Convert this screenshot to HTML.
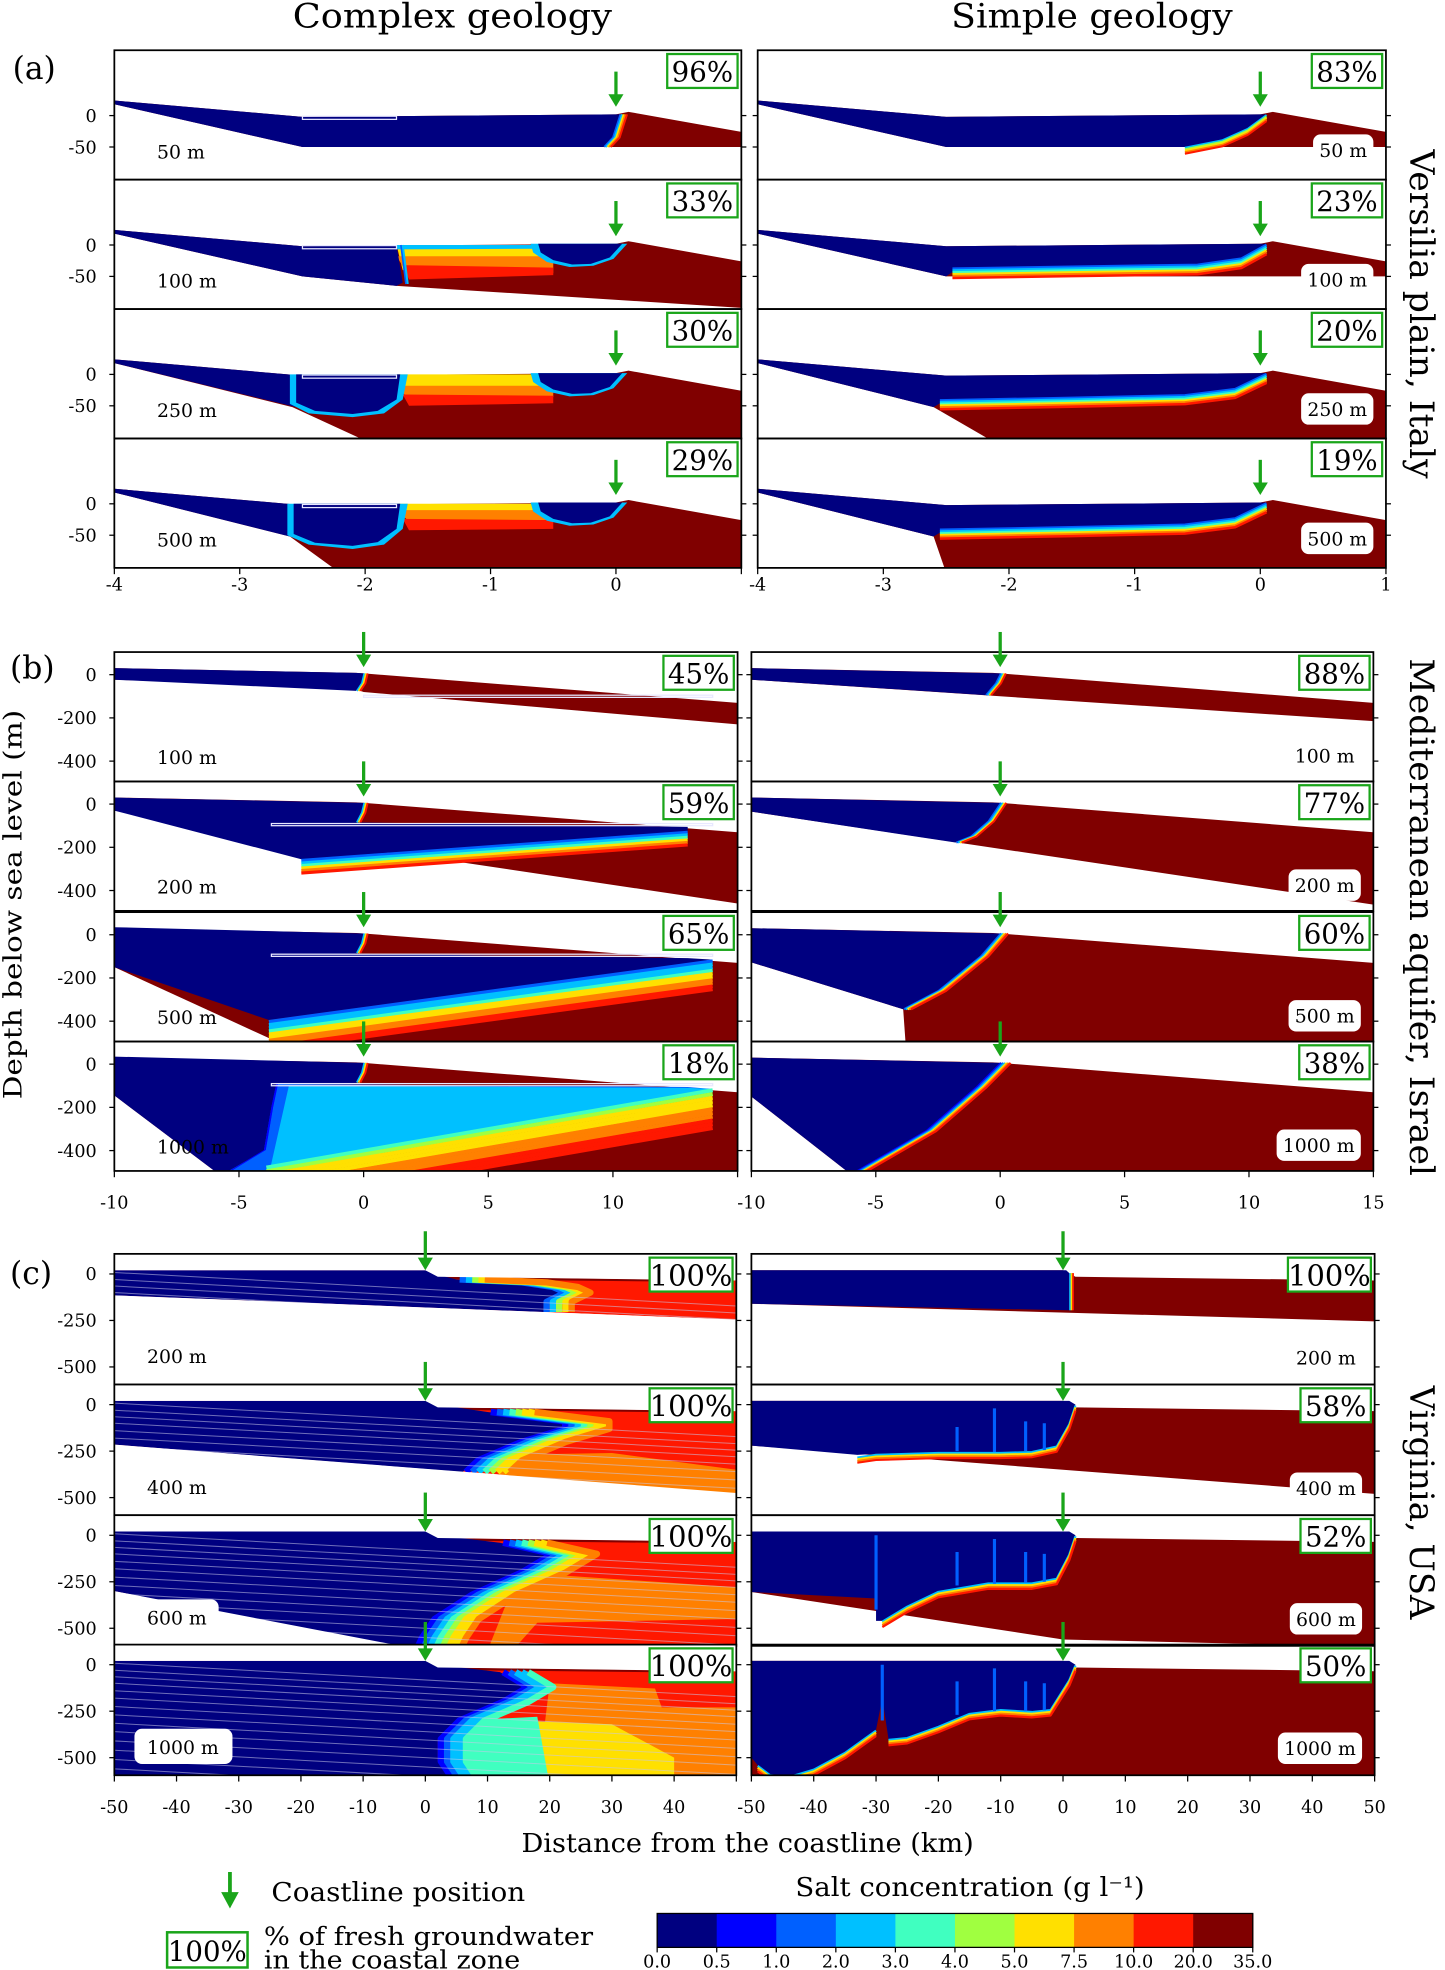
<!DOCTYPE html>
<html><head><meta charset="utf-8"><title>Coastal groundwater salinity cross-sections</title>
<style>
html,body{margin:0;padding:0;background:#fff;}
svg{display:block;}
text{font-family:"DejaVu Serif","Liberation Serif",serif;fill:#000;}
</style></head>
<body>
<svg id="fig" width="1445" height="1970" viewBox="0 0 1150 1568" preserveAspectRatio="none" xmlns="http://www.w3.org/2000/svg">
<defs id="defs"></defs>
<g id="panels"></g>
<g id="static">
  <text x="360" y="22" font-size="27" text-anchor="middle" textLength="254" lengthAdjust="spacingAndGlyphs">Complex geology</text>
  <text x="869" y="22" font-size="27" text-anchor="middle" textLength="224" lengthAdjust="spacingAndGlyphs">Simple geology</text>
  <text x="10" y="63" font-size="25">(a)</text>
  <text x="8" y="540" font-size="25">(b)</text>
  <text x="8" y="1022" font-size="25">(c)</text>
  <text transform="translate(1122,250) rotate(90)" font-size="27" text-anchor="middle" textLength="262" lengthAdjust="spacingAndGlyphs">Versilia plain, Italy</text>
  <text transform="translate(1122,730) rotate(90)" font-size="27" text-anchor="middle" textLength="412" lengthAdjust="spacingAndGlyphs">Mediterranean aquifer, Israel</text>
  <text transform="translate(1122,1196) rotate(90)" font-size="27" text-anchor="middle" textLength="186" lengthAdjust="spacingAndGlyphs">Virginia, USA</text>
  <text transform="translate(17,720) rotate(-90)" font-size="20" text-anchor="middle" textLength="310" lengthAdjust="spacingAndGlyphs">Depth below sea level (m)</text>
  <text x="595" y="1474" font-size="21" text-anchor="middle" textLength="360" lengthAdjust="spacingAndGlyphs">Distance from the coastline (km)</text>
  <g>
    <line x1="183" y1="1490" x2="183" y2="1514" stroke="#1aa51a" stroke-width="3"/>
    <polygon points="176,1506 190,1506 183,1519" fill="#1aa51a"/>
    <text x="216" y="1513" font-size="21" textLength="202" lengthAdjust="spacingAndGlyphs">Coastline position</text>
  </g>
  <g>
    <rect x="133" y="1538" width="64" height="28" fill="#fff" stroke="#1aa51a" stroke-width="2"/>
    <text x="165" y="1561" font-size="22" text-anchor="middle">100%</text>
    <text x="210" y="1548" font-size="20" textLength="262" lengthAdjust="spacingAndGlyphs">% of fresh groundwater</text>
    <text x="210" y="1567" font-size="20" textLength="204" lengthAdjust="spacingAndGlyphs">in the coastal zone</text>
  </g>
  <text x="772" y="1509" font-size="21" text-anchor="middle" textLength="278" lengthAdjust="spacingAndGlyphs">Salt concentration (g l⁻¹)</text>
  <g id="colorbar"></g>
</g>
</svg>
<script>
// ---------- data ----------
const COLORS = ['#000080','#0000ff','#0060ff','#00c0ff','#40ffc0','#a0ff40','#ffe000','#ff8000','#ff1800','#800000'];
const cbTicks = ['0.0','0.5','1.0','2.0','3.0','4.0','5.0','7.5','10.0','20.0','35.0'];
const pctA = [[96,33,30,29],[83,23,20,19]];
const pctB = [[45,59,65,18],[88,77,60,38]];
const pctC = [[100,100,100,100],[100,58,52,50]];
const depthA = ['50 m','100 m','250 m','500 m'];
const depthB = ['100 m','200 m','500 m','1000 m'];
const depthC = ['200 m','400 m','600 m','1000 m'];
const xTicksA = [-4,-3,-2,-1,0,1];
const xTicksB = [-10,-5,0,5,10,15];
const xTicksC = [-50,-40,-30,-20,-10,0,10,20,30,40,50];
const zTicksA = [0,-50];
const zTicksB = [0,-200,-400];
const zTicksC = [0,-250,-500];
const topA = [[-4,24],[-2.5,-2],[0,2],[0.1,6],[1,-26]];
const topB = [[-10,30],[-0.3,8],[0,6],[15,-130]];
const topC = [[-50,20],[0,20],[2,-15],[50,-35]];
const layerStartsC = [8,-30,-65,-100,-140,-180,-225,-270,-315,-360,-410,-460,-510,-560];

// layout (pixels, not data)
const L = {
 a:{tops:[40,143,246,349],h:103,xs:[[91,590],[603,1103]],dom:[-4,1],z0:52,zs:0.5,top:topA,xt:xTicksA,zt:zTicksA,pct:pctA,dep:depthA,tickY:465,arrow:[17,45]},
 b:{tops:[519,622,726,829],h:103,xs:[[91,587],[598,1093]],dom:[-10,15],z0:18,zs:0.172,top:topB,xt:xTicksB,zt:zTicksB,pct:pctB,dep:depthB,tickY:957,arrow:[-16,12]},
 c:{tops:[998,1102,1206,1309],h:104,xs:[[91,586],[598,1094]],dom:[-50,50],z0:16,zs:0.148,top:topC,xt:xTicksC,zt:zTicksC,pct:pctC,dep:depthC,tickY:1438,arrow:[-18,13]}
};
const WARM=[3,5,6,7,8];
const panels = [
 // ---- (a) complex ----
 {sec:'a',col:0,row:0,base:9,bottom:[[1,-50],[-2.5,-50],[-4,18]],
  patches:[[0,[[-4,24],[-2.5,-2],[0,2],[0.03,2],[-0.03,-35],[-0.1,-50],[-2.5,-50],[-4,18]]]],
  bands:[[[[0.03,2],[-0.03,-35],[-0.1,-50]],[2,3,6,7,8],1.3,0,1.6]],boxes:[[-2.5,-1,-1.75,-6]]},
 {sec:'a',col:0,row:1,base:9,bottom:[[1,-100],[-1.75,-65],[-2.5,-50],[-4,18]],
  patches:[[6,[[-1.75,0],[-0.55,0],[-0.55,-40],[-1.7,-40]]],[7,[[-1.75,-18],[-0.5,-18],[-0.5,-45],[-1.65,-50]]],[8,[[-1.7,-32],[-0.5,-36],[-0.5,-48],[-1.65,-55]]],[3,[[-1.75,0],[-0.6,0],[-0.6,-6],[-1.75,-7]]],
   [0,[[-4,24],[-2.5,-2],[-1.75,0],[-1.7,-60],[-1.75,-65],[-2.5,-50],[-4,18]]],
   [3,[[-0.68,2],[-0.66,-12],[-0.55,-27],[-0.37,-35],[-0.18,-33],[-0.02,-22],[0.09,2]]],
   [0,[[-0.62,2],[-0.6,-12],[-0.5,-24],[-0.35,-31],[-0.2,-30],[-0.05,-20],[0.05,2]]]],
  bands:[[[[-1.72,0],[-1.68,-62]],[2,3],1.3,0,1.6]],boxes:[[-2.5,-1,-1.75,-6]]},
 {sec:'a',col:0,row:2,base:9,bottom:[[1,-110],[-1.95,-110],[-2.58,-52],[-4,18]],
  patches:[[6,[[-1.75,0],[-0.55,0],[-0.55,-25],[-1.7,-25]]],[7,[[-1.75,-18],[-0.5,-18],[-0.5,-36],[-1.65,-40]]],[8,[[-1.7,-32],[-0.5,-34],[-0.5,-46],[-1.65,-50]]],
   [0,[[-4,24],[-2.5,-2],[-2.55,-52],[-4,18]]],
   [3,[[-2.6,0],[-2.6,-47],[-2.45,-62],[-2.1,-68],[-1.85,-62],[-1.7,-40],[-1.66,0]]],
   [0,[[-2.55,0],[-2.55,-45],[-2.4,-58],[-2.1,-63],[-1.9,-58],[-1.75,-40],[-1.72,0]]],
   [3,[[-0.68,2],[-0.66,-12],[-0.55,-27],[-0.37,-35],[-0.18,-33],[-0.02,-22],[0.09,2]]],
   [0,[[-0.62,2],[-0.6,-12],[-0.5,-24],[-0.35,-31],[-0.2,-30],[-0.05,-20],[0.05,2]]]],
  bands:[],boxes:[[-2.5,-1,-1.75,-6]]},
 {sec:'a',col:0,row:3,base:9,bottom:[[1,-110],[-2.2,-110],[-2.6,-52],[-4,18]],
  patches:[[6,[[-1.75,0],[-0.55,0],[-0.55,-14],[-1.7,-14]]],[7,[[-1.75,-10],[-0.5,-10],[-0.5,-26],[-1.65,-28]]],[8,[[-1.7,-24],[-0.5,-26],[-0.5,-40],[-1.65,-42]]],
   [0,[[-4,24],[-2.5,-2],[-2.6,-52],[-4,18]]],
   [3,[[-2.62,0],[-2.62,-50],[-2.45,-65],[-2.1,-72],[-1.85,-65],[-1.7,-40],[-1.66,0]]],
   [0,[[-2.57,0],[-2.57,-48],[-2.4,-62],[-2.1,-67],[-1.9,-61],[-1.75,-40],[-1.72,0]]],
   [3,[[-0.68,2],[-0.66,-12],[-0.55,-27],[-0.37,-35],[-0.18,-33],[-0.02,-22],[0.09,2]]],
   [0,[[-0.62,2],[-0.6,-12],[-0.5,-24],[-0.35,-31],[-0.2,-30],[-0.05,-20],[0.05,2]]]],
  bands:[],boxes:[[-2.5,-1,-1.75,-6]]},
 // ---- (a) simple ----
 {sec:'a',col:1,row:0,base:9,bottom:[[1,-50],[-2.5,-50],[-4,18]],
  patches:[[0,[[-4,24],[-2.5,-2],[0,2],[0.05,2],[-0.1,-20],[-0.3,-38],[-0.6,-50],[-2.5,-50],[-4,18]]]],
  bands:[[[[0.05,2],[-0.1,-20],[-0.3,-38],[-0.6,-50]],WARM,0,1.2,1.6]]},
 {sec:'a',col:1,row:1,base:9,bottom:[[1,-50],[-2.5,-50],[-4,18]],
  patches:[[0,[[-4,24],[-2.5,-2],[0,2],[0.05,2],[-0.15,-20],[-0.5,-30],[-1.5,-33],[-2.4,-36],[-2.5,-50],[-4,18]]]],
  bands:[[[[0.05,2],[-0.15,-20],[-0.5,-30],[-1.5,-33],[-2.45,-36]],[2,3,4,6,7,8],0,1.5,2]]},
 {sec:'a',col:1,row:2,base:9,bottom:[[1,-110],[-2.1,-110],[-2.6,-52],[-4,18]],
  patches:[[0,[[-4,24],[-2.5,-2],[0,2],[0.05,2],[-0.2,-22],[-0.6,-32],[-1.5,-36],[-2.5,-40],[-2.6,-52],[-4,18]]]],
  bands:[[[[0.05,2],[-0.2,-22],[-0.6,-32],[-1.5,-36],[-2.55,-40]],[2,3,4,6,7,8],0,1.4,2]]},
 {sec:'a',col:1,row:3,base:9,bottom:[[1,-110],[-2.5,-110],[-2.6,-52],[-4,18]],
  patches:[[0,[[-4,24],[-2.5,-2],[0,2],[0.05,2],[-0.2,-22],[-0.6,-32],[-1.5,-36],[-2.5,-40],[-2.6,-52],[-4,18]]]],
  bands:[[[[0.05,2],[-0.2,-22],[-0.6,-32],[-1.5,-36],[-2.55,-40]],[2,3,4,6,7,8],0,1.4,2]]},
 // ---- (b) complex ----
 {sec:'b',col:0,row:0,base:9,bottom:[[15,-230],[0,-80],[-0.5,-60],[-10,-23]],
  patches:[[0,[[-10,30],[-0.3,8],[0,6],[-0.1,-40],[-0.3,-75],[-10,-23]]]],
  bands:[[[[0,6],[-0.1,-40],[-0.3,-75]],[3,6,8],1.3,0,1.6]],boxes:[[0,-95,14,-105]]},
 {sec:'b',col:0,row:1,base:9,bottom:[[15,-460],[-10,-30]],
  patches:[[0,[[-10,30],[0,6],[-0.1,-40],[-0.3,-85],[13,-105],[13,-125],[-2.5,-255],[-10,-30]]]],
  bands:[[[[-2.5,-255],[13,-125]],[2,3,4,6,7,8],0,2,2.5],[[[0,6],[-0.1,-40],[-0.3,-85]],[3,6,8],1.3,0,1.6]],boxes:[[-3.7,-90,14,-100]]},
 {sec:'b',col:0,row:2,base:9,bottom:[[15,-510],[-3.2,-510],[-10,-150]],
  patches:[[0,[[-10,35],[0,6],[-0.1,-40],[-0.3,-88],[13,-108],[14,-115],[-3.8,-395],[-10,-150]]]],
  bands:[[[[-3.8,-395],[14,-115]],[2,3,3,4,6,6,7,7,8,8],0,2.5,2.8],[[[0,6],[-0.1,-40],[-0.3,-85]],[3,6,8],1.3,0,1.6]],boxes:[[-3.7,-90,14,-100]]},
 {sec:'b',col:0,row:3,base:9,bottom:[[15,-510],[-5.8,-510],[-10,-145]],
  patches:[[2,[[-3.5,-92],[13,-106],[14,-115],[-4.8,-510],[-5.5,-510]]],
   [3,[[-3.0,-100],[13,-110],[14,-115],[-4.5,-510],[-3.8,-510]]],
   [0,[[-10,35],[0,6],[-0.1,-40],[-0.3,-88],[-3.5,-90],[-3.7,-200],[-4,-400],[-5.5,-500],[-5.8,-510],[-10,-145]]]],
  bands:[[[[-3.9,-470],[14,-112]],[4,5,6,6,6,7,7,7,8,8,8],0,3,3.2],[[[-3.5,-90],[-3.7,-200],[-4,-400],[-5.5,-505]],[1,2],1.5,0,1.6],[[[0,6],[-0.1,-40],[-0.3,-85]],[3,6,8],1.3,0,1.6]],boxes:[[-3.7,-90,14,-100]]},
 // ---- (b) simple ----
 {sec:'b',col:1,row:0,base:9,bottom:[[15,-215],[-10,-23]],
  patches:[[0,[[-10,30],[0,6],[-0.2,-40],[-0.6,-95],[-10,-23]]]],
  bands:[[[[0,6],[-0.2,-40],[-0.6,-95]],[2,3,6,8],1.3,0,1.6]]},
 {sec:'b',col:1,row:1,base:9,bottom:[[15,-465],[-10,-35]],
  patches:[[0,[[-10,30],[0,6],[-0.5,-80],[-1.2,-150],[-1.8,-178],[-10,-35]]]],
  bands:[[[[0,6],[-0.5,-80],[-1.2,-150],[-1.8,-178]],[2,3,6,8],1.4,0,1.6]]},
 {sec:'b',col:1,row:2,base:9,bottom:[[15,-510],[-3.8,-510],[-3.9,-345],[-10,-128]],
  patches:[[0,[[-10,30],[0,6],[-0.8,-100],[-2.5,-260],[-3.9,-345],[-10,-128]]]],
  bands:[[[[0,6],[-0.8,-100],[-2.5,-260],[-3.9,-345]],[2,3,6,7,8],1.4,0,1.8]]},
 {sec:'b',col:1,row:3,base:9,bottom:[[15,-510],[-6,-510],[-10,-150]],
  patches:[[0,[[-10,30],[0,6],[-1,-110],[-3,-310],[-6,-510],[-10,-150]]]],
  bands:[[[[0,6],[-1,-110],[-3,-310],[-6,-510]],[1,2,3,6,7,8],1.5,0,1.8]]},
 // ---- (c) complex ----
 {sec:'c',col:0,row:0,base:8,bottom:[[50,-245],[-50,-115]],layers:true,
  patches:[[9,[[2,-15],[36,-28],[36,-40],[2,-28]]],[0,[[-50,20],[0,20],[1,5],[5,-30],[15,-45],[20,-70],[22,-100],[19,-150],[19,-205],[-50,-115]]]],
  bands:[[[[5,-30],[15,-45],[20,-70],[22,-100],[19,-150],[19,-205]],[2,3,5,6,7],5,0,5]]},
 {sec:'c',col:0,row:1,base:8,bottom:[[50,-475],[-50,-215]],layers:true,
  patches:[[7,[[12,-270],[30,-260],[50,-350],[50,-480],[12,-400]]],[9,[[2,-15],[36,-28],[36,-40],[2,-28]]],
   [0,[[-50,20],[0,20],[2,0],[10,-40],[22,-90],[22,-130],[15,-200],[8,-300],[6,-362],[-50,-215]]]],
  bands:[[[[10,-40],[22,-90],[22,-130],[15,-200],[8,-300],[6,-362]],[1,2,3,4,5,6,6,7],5,0,5.2]]},
 {sec:'c',col:0,row:2,base:8,bottom:[[50,-620],[0,-620],[-50,-300]],layers:true,
  patches:[[7,[[15,-200],[50,-280],[50,-620],[10,-620]]],[8,[[18,-470],[50,-450],[50,-600],[14,-620]]],[9,[[2,-15],[36,-28],[36,-40],[2,-28]]],
   [0,[[-50,20],[0,20],[2,0],[12,-40],[20,-100],[15,-200],[7,-320],[1,-450],[-1,-550],[-2,-620],[-50,-300]]]],
  bands:[[[[12,-40],[20,-100],[15,-200],[7,-320],[1,-450],[-1,-550],[-2,-620]],[1,2,3,4,5,6,6,7],5,0,5.2]]},
 {sec:'c',col:0,row:3,base:8,bottom:[[50,-650],[-50,-650]],layers:true,
  patches:[[7,[[20,-100],[50,-150],[50,-650],[18,-650]]],[8,[[36,-40],[50,-40],[50,-230],[38,-230]]],[6,[[14,-300],[30,-320],[40,-500],[40,-650],[14,-650]]],[4,[[6,-300],[18,-280],[20,-650],[7,-650]]],[9,[[2,-15],[36,-28],[36,-40],[2,-28]]],
   [0,[[-50,20],[0,20],[2,0],[12,-40],[16,-120],[12,-200],[5,-300],[2,-400],[2,-520],[4,-620],[15,-650],[-50,-650]]]],
  bands:[[[[12,-40],[16,-120],[12,-200],[5,-300],[2,-400],[2,-520],[4,-620]],[1,2,3,3,4],5,0,5.2]]},
 // ---- (c) simple ----
 {sec:'c',col:1,row:0,base:9,bottom:[[50,-255],[-50,-160]],
  patches:[[0,[[-50,20],[0.5,20],[1,5],[1,-195],[-50,-160]]]],
  bands:[[[[1,5],[1,-195]],[3,6,8],1.2,0,1.4]]},
 {sec:'c',col:1,row:1,base:9,bottom:[[50,-480],[-50,-220]],
  patches:[[0,[[-50,20],[1,20],[2,0],[1,-100],[-1,-220],[-5,-250],[-10,-255],[-20,-255],[-30,-265],[-33,-270],[-50,-220]]]],
  bands:[[[[2,0],[1,-100],[-1,-220],[-5,-250],[-10,-255],[-20,-255],[-30,-265],[-33,-280]],[3,6,7,8],0,1.4,1.6]],
  fingers:[[-17,-250,-120],[-11,-255,-20],[-6,-250,-90],[-3,-245,-100]]},
 {sec:'c',col:1,row:2,base:9,bottom:[[50,-600],[0,-560],[-50,-305]],
  patches:[[0,[[-50,20],[1,20],[2,0],[1,-100],[-1,-230],[-5,-255],[-12,-255],[-20,-300],[-25,-380],[-29,-460],[-30,-460],[-30,-340],[-50,-305]]]],
  bands:[[[[2,0],[1,-100],[-1,-230],[-5,-255],[-12,-255],[-20,-300],[-25,-380],[-29,-460]],[3,6,7,8],0,1.4,1.8]],
  fingers:[[-30,-400,0],[-17,-270,-90],[-11,-260,-20],[-6,-255,-90],[-3,-250,-100]]},
 {sec:'c',col:1,row:3,base:9,bottom:[[50,-650],[-50,-650]],
  patches:[[0,[[-50,20],[1,20],[2,0],[1,-80],[-2,-240],[-5,-250],[-10,-240],[-15,-260],[-20,-330],[-25,-390],[-28,-400],[-29,-180],[-30,-350],[-35,-470],[-40,-560],[-44,-600],[-47,-590],[-49,-540],[-50,-500]]]],
  bands:[[[[2,0],[1,-80],[-2,-240],[-5,-250],[-10,-240],[-15,-260],[-20,-330],[-25,-390],[-28,-400]],[3,6,7,8],0,1.4,1.8],[[[-30,-350],[-35,-470],[-40,-560],[-44,-600],[-47,-590],[-49,-540]],[3,6,7,8],0,1.4,1.8]],
  fingers:[[-29,-300,0],[-17,-270,-90],[-11,-250,-20],[-6,-250,-90],[-3,-245,-100]]}
];

// ---------- rendering ----------
const NS='http://www.w3.org/2000/svg';
function mk(tag, attrs, parent){const e=document.createElementNS(NS,tag);for(const k in attrs)e.setAttribute(k,attrs[k]);if(parent)parent.appendChild(e);return e;}
const root=document.getElementById('panels');
const defs=document.getElementById('defs');
let clipId=0;

function drawPanel(p){
  const s=L[p.sec];
  const [x0,x1]=s.xs[p.col];
  const top=s.tops[p.row], h=s.h;
  const sx=v=>x0+(v-s.dom[0])/(s.dom[1]-s.dom[0])*(x1-x0);
  const sy=z=>top+s.z0-z*s.zs;
  const pts=a=>a.map(q=>sx(q[0]).toFixed(1)+','+sy(q[1]).toFixed(1)).join(' ');
  const g=mk('g',{},root);
  
  
  const cid='clip'+(clipId++);
  const cp=mk('clipPath',{id:cid},defs);
  mk('rect',{x:x0,y:top,width:x1-x0,height:h},cp);
  const body=mk('g',{'clip-path':'url(#'+cid+')'},g);
  const aq=mk('polygon',{points:pts(s.top.concat(p.bottom)),fill:COLORS[p.base]},body);
  
  
  (p.patches||[]).forEach(pt=>{
    const e=mk('polygon',{points:pts(pt[1]),fill:COLORS[pt[0]]},body);
    
    
  });
  (p.bands||[]).forEach(b=>{
    const [line,cols,dx,dy,w]=b;
    cols.forEach((c,i)=>{
      const o=i+0.5;
      const str=line.map(q=>(sx(q[0])+dx*o).toFixed(1)+','+(sy(q[1])+dy*o).toFixed(1)).join(' ');
      const e=mk('polyline',{points:str,fill:'none',stroke:COLORS[c],'stroke-width':w,'stroke-linejoin':'round'},body);
      
      
    });
  });
  (p.fingers||[]).forEach(f=>{
    const e=mk('line',{x1:sx(f[0]),y1:sy(f[1]),x2:sx(f[0]),y2:sy(f[2]),stroke:COLORS[2],'stroke-width':2.5},body);
    
    
  });
  if(p.layers){
    layerStartsC.forEach(z=>{
      const e=mk('line',{x1:sx(s.dom[0]),y1:sy(z),x2:sx(s.dom[1]),y2:sy(z-180),stroke:'#c8c8e8','stroke-width':0.8,opacity:0.55},body);
      
      
    });
    mk('polygon',{points:pts(s.top.concat([[s.dom[1],200],[s.dom[0],200]])),fill:'#fff'},body);
    mk('polygon',{points:pts(p.bottom.concat([[s.dom[0],-2000],[s.dom[1],-2000]])),fill:'#fff'},body);
  }
  (p.boxes||[]).forEach(bx=>{
    const e=mk('rect',{x:sx(bx[0]),y:sy(bx[1]),width:sx(bx[2])-sx(bx[0]),height:sy(bx[3])-sy(bx[1]),fill:'none',stroke:'#e8e8ff','stroke-width':1},body);
    
    
  });
  const fr=mk('rect',{x:x0,y:top,width:x1-x0,height:h,fill:'none',stroke:'#000','stroke-width':1.4},g);
  
  
  s.zt.forEach(z=>{
    mk('line',{x1:x0-4,y1:sy(z),x2:x0,y2:sy(z),stroke:'#000','stroke-width':1},g);
    mk('line',{x1:x1,y1:sy(z),x2:x1+4,y2:sy(z),stroke:'#000','stroke-width':1},g);
    if(p.col===0){
      const t=mk('text',{x:x0-14,y:sy(z)+5,'font-size':14,'text-anchor':'end'},g);
      t.textContent=z;
      
      
    }
  });
  const ax=sx(0);
  const ar=mk('g',{},g);
  
  
  mk('line',{x1:ax,y1:top+s.arrow[0],x2:ax,y2:top+s.arrow[1]-6,stroke:'#1aa51a','stroke-width':2.6},ar);
  mk('polygon',{points:(ax-6)+','+(top+s.arrow[1]-10)+' '+(ax+6)+','+(top+s.arrow[1]-10)+' '+ax+','+(top+s.arrow[1]),fill:'#1aa51a'},ar);
  const pv=s.pct[p.col][p.row];
  const bw=pv===100?66:56;
  const pb=mk('g',{},g);
  
  
  mk('rect',{x:x1-bw-3,y:top+3,width:bw,height:27,fill:'#fff',stroke:'#1aa51a','stroke-width':1.8},pb);
  const pt=mk('text',{x:x1-3-bw/2,y:top+25,'font-size':pv===100?23:22,'text-anchor':'middle'},pb);
  pt.textContent=pv+'%';
  const dl=s.dep[p.row];
  const dg=mk('g',{},g);
  
  
  if(p.col===0){
    const boxed=(p.sec==='c'&&p.row>=2);
    const lx=x0+(p.sec==='c'?26:34), ly=top+(p.sec==='a'?86:p.sec==='b'?89:87);
    if(boxed) mk('rect',{x:lx-10,y:ly-20,width:dl.length*11+12,height:28,rx:6,fill:'#fff'},dg);
    const t=mk('text',{x:lx,y:ly,'font-size':15},dg); t.textContent=dl;
  }else{
    const w=dl.length*9.5+10;
    const cx=x1-10-w/2, ly=top+(p.sec==='a'?85:88);
    mk('rect',{x:cx-w/2,y:ly-18,width:w,height:25,rx:6,fill:'#fff'},dg);
    const t=mk('text',{x:cx,y:ly,'font-size':15,'text-anchor':'middle'},dg); t.textContent=dl;
  }
  if(p.row===3){
    s.xt.forEach((v,i)=>{
      mk('line',{x1:sx(v),y1:top+h,x2:sx(v),y2:top+h+5,stroke:'#000','stroke-width':1},g);
      if(p.col===0 && i===s.xt.length-1) return;
      const t=mk('text',{x:sx(v),y:s.tickY+5,'font-size':14,'text-anchor':'middle'},g);
      t.textContent=v;
      
      
    });
  }
}
panels.forEach(drawPanel);

const cb=document.getElementById('colorbar');
const cbX0=523, cbX1=997, cbY=1523, cbH=27;
const segW=(cbX1-cbX0)/COLORS.length;
COLORS.forEach((c,i)=>{
  const r=mk('rect',{x:cbX0+i*segW,y:cbY,width:segW+0.5,height:cbH,fill:c},cb);
  
  
});
mk('rect',{x:cbX0,y:cbY,width:cbX1-cbX0,height:cbH,fill:'none',stroke:'#000','stroke-width':1},cb);
cbTicks.forEach((t,i)=>{
  const x=cbX0+i*segW;
  mk('line',{x1:x,y1:cbY+cbH,x2:x,y2:cbY+cbH+4,stroke:'#000'},cb);
  const e=mk('text',{x:x,y:1566,'font-size':14,'text-anchor':'middle'},cb);
  e.textContent=t;
  
  
});
</script>
</body></html>
